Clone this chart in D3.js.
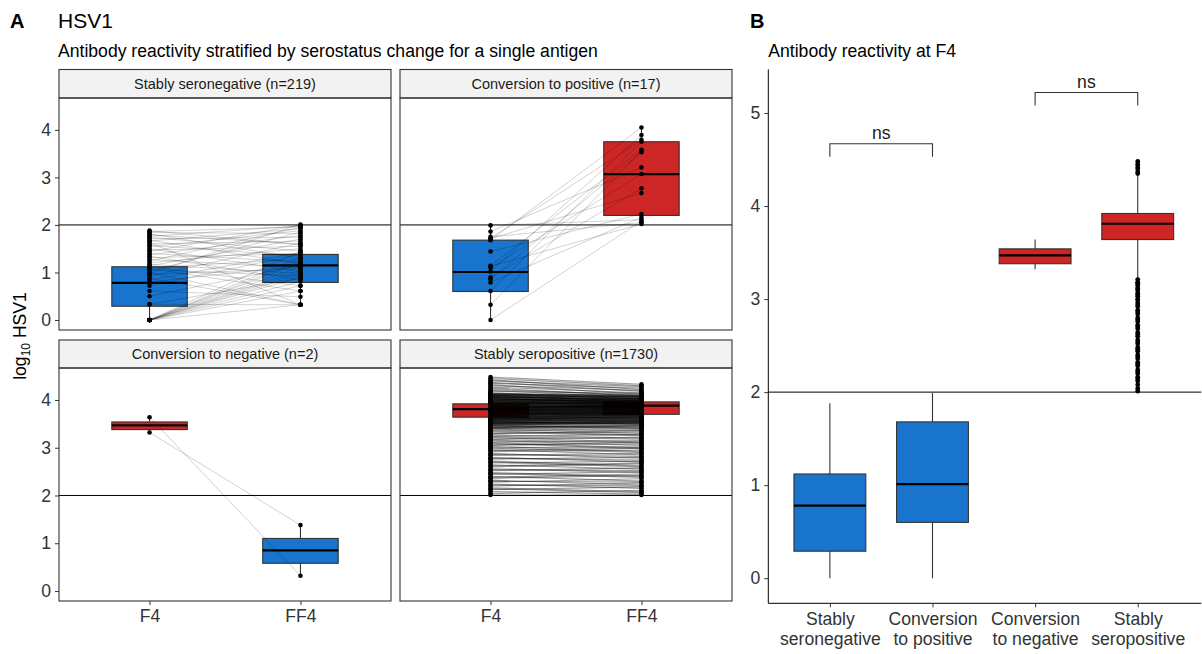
<!DOCTYPE html>
<html>
<head>
<meta charset="utf-8">
<script src="https://cdn.jsdelivr.net/npm/d3@7"></script>
<style>
  body { margin: 0; background: #fff; }
  svg { font-family: 'Liberation Sans', Arial, sans-serif; }
</style>
</head>
<body>
<svg id="chart" width="1202" height="654"></svg>
<script>
// ---- data (log10 HSV1 reactivity) ----
const groups = ['Stably seronegative', 'Conversion to positive', 'Conversion to negative', 'Stably seropositive']
const groupN = [219, 17, 2, 1730]
const timepoints = ['F4', 'FF4']
const bLabels = [['Stably', 'seronegative'], ['Conversion', 'to positive'], ['Conversion', 'to negative'], ['Stably', 'seropositive']]
const cutoff = 2

// box stats per group: [lower whisker, q1, median, q3, upper whisker]
const boxF4 = [
  [0.00, 0.29, 0.78, 1.12, 1.88],
  [0.00, 0.60, 1.01, 1.68, 1.99],
  [3.32, 3.38, 3.47, 3.54, 3.64],
  [3.22, 3.64, 3.81, 3.92, 4.34]
]
const boxFF4 = [
  [0.31, 0.79, 1.15, 1.38, 2.01],
  [2.02, 2.20, 3.07, 3.75, 4.05],
  [0.32, 0.58, 0.85, 1.10, 1.38],
  [3.30, 3.70, 3.88, 3.96, 4.33]
]

// paired individual values (F4[i] -> FF4[i])
const negF4 = [0.00, 0.00, 0.00, 0.00, 0.00, 0.00, 0.00, 0.00, 0.00, 0.00, 0.00, 0.00, 0.00, 0.33, 0.33, 0.50, 0.61, 0.72,
  0.88, 0.92, 0.96, 1.00, 1.03, 1.06, 1.10, 1.14, 1.17, 1.20, 1.24, 1.27, 1.31, 1.34, 1.37, 1.40, 1.44, 1.47, 1.50, 1.54,
  1.57, 1.60, 1.63, 1.66, 1.68, 1.71, 1.74, 1.76, 1.79, 1.81, 1.84, 1.86, 1.88, 0.80, 0.84, 1.12, 0.98, 1.08]
const negFF4 = [0.32, 0.81, 0.95, 1.05, 1.20, 1.32, 0.61, 1.12, 0.90, 1.45, 0.72, 1.00, 1.25, 0.32, 0.88, 1.15, 0.49, 1.38,
  0.32, 1.62, 1.08, 0.32, 1.85, 0.93, 1.28, 1.70, 0.98, 1.50, 1.95, 1.10, 1.40, 0.85, 1.78, 1.22, 2.00, 1.55, 1.02, 1.88,
  1.35, 1.66, 0.32, 1.92, 1.18, 1.74, 1.45, 1.98, 1.60, 1.30, 1.82, 1.96, 1.58, 1.14, 1.42, 0.72, 2.01, 0.61]

const convPosF4 = [1.99, 1.86, 1.75, 1.72, 1.71, 1.68, 1.44, 1.14, 1.13, 1.10, 1.02, 0.90, 0.86, 0.79, 0.61, 0.32, 0.00]
const convPosFF4 = [2.11, 3.21, 2.05, 3.79, 2.67, 4.05, 2.23, 3.58, 2.02, 3.07, 3.89, 2.77, 3.53, 2.16, 3.75, 3.55, 2.08]

const convNegF4 = [3.64, 3.32]
const convNegFF4 = [0.32, 1.38]

const posF4 = [4.48, 4.45, 4.42, 4.40, 4.37, 4.35, 4.32, 4.30, 4.27, 4.25, 4.22, 4.20, 4.18, 4.15, 4.13, 4.10,
  4.08, 4.06, 4.05, 4.03, 4.02, 4.00, 3.99, 3.98, 3.96, 3.95, 3.94, 3.92, 3.91, 3.90, 3.89, 3.88, 3.86, 3.85, 3.84, 3.83,
  3.82, 3.81, 3.80, 3.79, 3.78, 3.77, 3.76, 3.75, 3.74, 3.73, 3.72, 3.71, 3.70, 3.69, 3.68, 3.67, 3.66, 3.65, 3.64, 3.63,
  3.62, 3.61, 3.60, 3.58, 3.57, 3.55, 3.53, 3.52, 3.50, 3.48,
  4.09, 4.07, 4.04, 4.01, 3.97, 3.93, 3.87, 3.835, 3.795, 3.765, 3.735, 3.705, 3.675, 3.645, 3.615, 3.59, 3.56, 3.54, 3.51,
  4.11, 4.12, 3.985, 3.945, 3.905, 3.865, 3.825, 3.785, 3.755, 3.725, 3.695,
  4.115, 4.095, 4.075, 4.055, 4.035, 4.015, 3.995, 3.975, 3.955, 3.935, 3.915, 3.895, 3.875, 3.855, 3.845, 3.815, 3.805,
  3.775, 3.745, 3.715, 3.685, 3.655, 3.625, 3.605, 3.585, 3.565, 3.545, 3.525, 3.505, 3.49,
  4.14, 4.125, 4.105, 4.085, 4.065, 4.045, 4.025, 4.005, 3.965, 3.925, 3.885, 3.853, 3.812, 3.772, 3.742, 3.712, 3.682,
  3.652, 3.632, 3.598, 3.575, 3.548, 3.515, 3.495, 3.47, 3.46, 3.44, 3.43, 3.415, 3.40,
  3.45, 3.42, 3.39, 3.36, 3.33, 3.30, 3.27, 3.24, 3.21, 3.18, 3.15, 3.12, 3.09, 3.06, 3.03, 3.00, 2.96, 2.92, 2.88, 2.84,
  2.80, 2.76, 2.72, 2.68, 2.64, 2.60, 2.56, 2.52, 2.48, 2.44, 2.40, 2.36, 2.32, 2.28, 2.24, 2.20, 2.16, 2.12, 2.08, 2.04, 2.01,
  3.47, 3.41, 3.35, 3.29, 3.23, 3.17, 3.11, 3.05, 2.99, 2.94, 2.86, 2.78, 2.70, 2.62, 2.54, 2.46, 2.38, 2.30, 2.22, 2.14]
const posFF4 = [4.33, 4.30, 4.22, 4.28, 4.18, 4.25, 4.12, 4.20, 4.15, 4.08, 4.10, 4.05, 4.14, 4.02, 4.07, 3.98,
  4.01, 3.95, 4.03, 3.92, 3.99, 3.96, 3.90, 4.00, 3.93, 3.88, 3.97, 3.86, 3.94, 3.91, 3.84, 3.89, 3.87, 3.82, 3.90, 3.85,
  3.80, 3.86, 3.83, 3.78, 3.84, 3.81, 3.76, 3.79, 3.73, 3.77, 3.74, 3.70, 3.75, 3.71, 3.68, 3.72, 3.66, 3.69, 3.63, 3.67,
  3.60, 3.64, 3.58, 3.62, 3.55, 3.59, 3.52, 3.56, 3.49, 3.53,
  3.97, 4.04, 3.94, 4.00, 3.91, 3.95, 3.85, 3.88, 3.82, 3.79, 3.76, 3.73, 3.70, 3.67, 3.64, 3.61, 3.58, 3.50, 3.54,
  4.06, 4.09, 3.96, 3.89, 3.92, 3.83, 3.86, 3.80, 3.77, 3.71, 3.74,
  4.03, 4.06, 3.98, 4.02, 3.94, 3.99, 3.92, 3.95, 3.90, 3.93, 3.87, 3.89, 3.85, 3.83, 3.88, 3.81, 3.79,
  3.82, 3.75, 3.78, 3.72, 3.69, 3.66, 3.63, 3.65, 3.60, 3.57, 3.55, 3.52, 3.51,
  4.10, 4.08, 4.04, 4.07, 4.00, 4.02, 3.96, 3.98, 3.94, 3.91, 3.86, 3.88, 3.84, 3.80, 3.77, 3.74, 3.73,
  3.70, 3.68, 3.65, 3.62, 3.58, 3.56, 3.54, 3.52, 3.48, 3.47, 3.44, 3.45, 3.41,
  3.42, 3.46, 3.30, 3.38, 3.25, 3.33, 3.20, 3.28, 3.12, 3.22, 3.05, 3.15, 2.98, 3.08, 2.92, 3.02, 2.85, 2.95, 2.78, 2.88,
  2.70, 2.80, 2.62, 2.72, 2.55, 2.66, 2.48, 2.58, 2.40, 2.50, 2.30, 2.42, 2.22, 2.35, 2.15, 2.26, 2.08, 2.18, 2.03, 2.11, 2.01,
  3.40, 3.35, 3.27, 3.36, 3.18, 3.10, 3.00, 3.12, 2.90, 2.99, 2.82, 2.74, 2.60, 2.68, 2.52, 2.38, 2.45, 2.28, 2.20, 2.06]

const pairsF4 = [negF4, convPosF4, convNegF4, posF4]
const pairsFF4 = [negFF4, convPosFF4, convNegFF4, posFF4]

// comparisons drawn in panel B
const bracketPairs = [[0, 1], [2, 3]]
const bracketY = [4.67, 5.22]
const bracketLabels = ['ns', 'ns']

// ---- styles / layout ----
const BLUE = '#1874CD'
const RED = '#CD2626'
const INK = '#333333'
const FONT = 17.6
const LINE_OPACITY = [0.2, 0.2, 0.2, 0.38]
const LINE_WIDTH = [0.9, 0.9, 0.9, 1.2]

const svg = d3.select('#chart')

function boxFill (stats) { return stats[2] > cutoff ? RED : BLUE }

function drawBox (g, cx, w, stats, y) {
  g.append('line')
    .attr('x1', cx).attr('x2', cx)
    .attr('y1', y(stats[0])).attr('y2', y(stats[4]))
    .attr('stroke', INK).attr('stroke-width', 1.1)
  g.append('rect')
    .attr('x', cx - w / 2).attr('width', w)
    .attr('y', y(stats[3])).attr('height', y(stats[1]) - y(stats[3]))
    .attr('fill', boxFill(stats))
    .attr('stroke', INK).attr('stroke-width', 1.1)
  g.append('line')
    .attr('x1', cx - w / 2).attr('x2', cx + w / 2)
    .attr('y1', y(stats[2])).attr('y2', y(stats[2]))
    .attr('stroke', '#000').attr('stroke-width', 2.2)
}

// ---- panel A: titles ----
svg.append('text').text('A')
  .attr('x', 10).attr('y', 28)
  .attr('font-size', 20).attr('font-weight', 'bold')
svg.append('text').text('HSV1')
  .attr('x', 58).attr('y', 28)
  .attr('font-size', 21)
svg.append('text').text('Antibody reactivity stratified by serostatus change for a single antigen')
  .attr('x', 58).attr('y', 57)
  .attr('font-size', FONT)

const panelLeft = [59, 400]
const panelWidth = 332
const rows = [
  { strip: 69.5, top: 98, bottom: 330 },
  { strip: 340, top: 368, bottom: 601 }
]
const yDomainA = [-0.21, 4.67]

groups.forEach(function (name, gi) {
  var col = gi % 2
  var row = rows[Math.floor(gi / 2)]
  var x0 = panelLeft[col]
  var x = d3.scalePoint(timepoints, [x0, x0 + panelWidth]).padding(0.6)
  var y = d3.scaleLinear(yDomainA, [row.bottom, row.top])
  var g = svg.append('g')

  // strip
  g.append('rect')
    .attr('x', x0).attr('y', row.strip)
    .attr('width', panelWidth).attr('height', row.top - row.strip)
    .attr('fill', '#F2F2F2').attr('stroke', INK).attr('stroke-width', 1.1)
  g.append('text')
    .text(name + ' (n=' + groupN[gi] + ')')
    .attr('x', x0 + panelWidth / 2).attr('y', (row.strip + row.top) / 2)
    .attr('dy', '0.35em').attr('text-anchor', 'middle')
    .attr('font-size', 14.5).attr('fill', '#1A1A1A')

  // cutoff
  g.append('line')
    .attr('x1', x0).attr('x2', x0 + panelWidth)
    .attr('y1', y(cutoff)).attr('y2', y(cutoff))
    .attr('stroke', '#000').attr('stroke-width', 1)

  var bw = x.step() * 0.5
  drawBox(g, x('F4'), bw, boxF4[gi], y)
  drawBox(g, x('FF4'), bw, boxFF4[gi], y)

  // paired lines
  var f4 = pairsF4[gi]
  var ff4 = pairsFF4[gi]
  g.append('g').selectAll('line')
    .data(d3.range(f4.length))
    .enter().append('line')
    .attr('x1', x('F4')).attr('x2', x('FF4'))
    .attr('y1', function (i) { return y(f4[i]) })
    .attr('y2', function (i) { return y(ff4[i]) })
    .attr('stroke', '#000').attr('stroke-width', LINE_WIDTH[gi])
    .attr('stroke-opacity', LINE_OPACITY[gi])

  // points
  var pts = f4.map(function (v) { return [x('F4'), v] })
    .concat(ff4.map(function (v) { return [x('FF4'), v] }))
  g.append('g').selectAll('circle')
    .data(pts)
    .enter().append('circle')
    .attr('cx', function (d) { return d[0] })
    .attr('cy', function (d) { return y(d[1]) })
    .attr('r', 2.3)
    .attr('fill', '#000')

  // panel border
  g.append('rect')
    .attr('x', x0).attr('y', row.top)
    .attr('width', panelWidth).attr('height', row.bottom - row.top)
    .attr('fill', 'none').attr('stroke', INK).attr('stroke-width', 1.1)

  if (col === 0) {
    var ya = g.append('g')
      .attr('transform', 'translate(' + x0 + ',0)')
      .call(d3.axisLeft(y).tickValues([0, 1, 2, 3, 4]).tickSize(4).tickPadding(4).tickFormat(d3.format('d')))
    ya.select('.domain').remove()
    ya.selectAll('line').attr('stroke', INK)
    ya.selectAll('text').attr('font-size', FONT).attr('fill', INK).attr('font-family', null)
  }
  if (row === rows[1]) {
    var xa = g.append('g')
      .attr('transform', 'translate(0,' + row.bottom + ')')
      .call(d3.axisBottom(x).tickSize(4).tickPadding(5))
    xa.select('.domain').remove()
    xa.selectAll('line').attr('stroke', INK)
    xa.selectAll('text').attr('font-size', FONT).attr('fill', INK).attr('font-family', null)
  }
})

// y title
var yTitle = svg.append('text')
  .attr('transform', 'translate(26,336) rotate(-90)')
  .attr('text-anchor', 'middle')
  .attr('font-size', FONT)
yTitle.append('tspan').text('log')
yTitle.append('tspan').text('10').attr('font-size', 12).attr('dy', 4)
yTitle.append('tspan').text(' HSV1').attr('dy', -4)

// ---- panel B ----
const bLeft = 768.3
const bRight = 1199.3
const bTop = 69.3
const bBottom = 603.3

svg.append('text').text('B')
  .attr('x', 750).attr('y', 28)
  .attr('font-size', 20).attr('font-weight', 'bold')
svg.append('text').text('Antibody reactivity at F4')
  .attr('x', bLeft).attr('y', 57)
  .attr('font-size', FONT)

var xB = d3.scalePoint(d3.range(groups.length), [bLeft, bRight]).padding(0.6)
var yB = d3.scaleLinear([-0.27, 5.47], [bBottom, bTop])
var gB = svg.append('g')

gB.append('line')
  .attr('x1', bLeft).attr('x2', bRight + 2)
  .attr('y1', yB(cutoff)).attr('y2', yB(cutoff))
  .attr('stroke', '#000').attr('stroke-width', 1)

var bwB = xB.step() * 0.7
groups.forEach(function (name, gi) {
  var stats = boxF4[gi]
  drawBox(gB, xB(gi), bwB, stats, yB)
  var outliers = pairsF4[gi].filter(function (v) { return v < stats[0] || v > stats[4] })
  gB.append('g').selectAll('circle')
    .data(outliers)
    .enter().append('circle')
    .attr('cx', xB(gi))
    .attr('cy', function (v) { return yB(v) })
    .attr('r', 2.4)
    .attr('fill', '#000')
})

// significance brackets
bracketPairs.forEach(function (p, i) {
  var yy = yB(bracketY[i])
  var tick = yB(bracketY[i] - 0.14)
  gB.append('path')
    .attr('d', 'M' + xB(p[0]) + ',' + tick + 'V' + yy + 'H' + xB(p[1]) + 'V' + tick)
    .attr('fill', 'none').attr('stroke', INK).attr('stroke-width', 1.1)
  gB.append('text').text(bracketLabels[i])
    .attr('x', (xB(p[0]) + xB(p[1])) / 2).attr('y', yy - 5)
    .attr('text-anchor', 'middle')
    .attr('font-size', FONT).attr('fill', '#1A1A1A')
})

var yaB = gB.append('g')
  .attr('transform', 'translate(' + bLeft + ',0)')
  .call(d3.axisLeft(yB).tickValues([0, 1, 2, 3, 4, 5]).tickSize(4).tickPadding(4).tickFormat(d3.format('d')))
yaB.select('.domain').attr('d', 'M0,' + bTop + 'V' + bBottom).attr('stroke', '#000')
yaB.selectAll('.tick line').attr('stroke', INK)
yaB.selectAll('text').attr('font-size', FONT).attr('fill', INK).attr('font-family', null)

var xaB = gB.append('g')
  .attr('transform', 'translate(0,' + bBottom + ')')
  .call(d3.axisBottom(xB).tickSize(4).tickPadding(5).tickFormat(function () { return '' }))
xaB.select('.domain').attr('d', 'M' + bLeft + ',0H' + (bRight + 2)).attr('stroke', '#000')
xaB.selectAll('.tick line').attr('stroke', INK)
xaB.selectAll('.tick').each(function (gi) {
  var t = d3.select(this).select('text')
    .attr('font-size', FONT).attr('fill', INK).attr('font-family', null)
    .attr('y', 0).attr('dy', null)
  bLabels[gi].forEach(function (s, k) {
    t.append('tspan').text(s).attr('x', 0).attr('y', 22 + k * 20)
  })
})
</script>
</body>
</html>
